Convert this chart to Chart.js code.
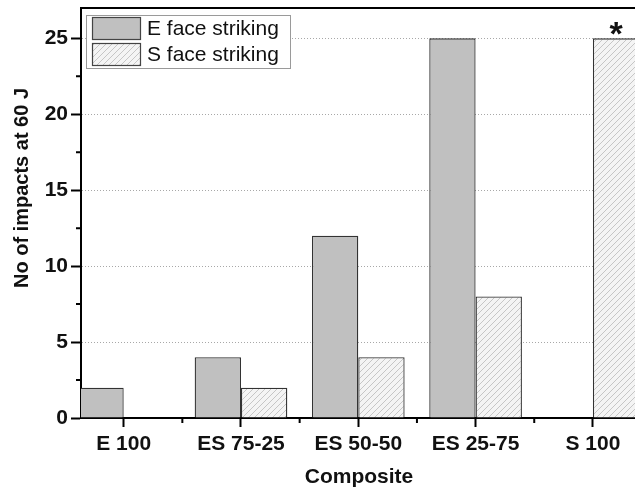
<!DOCTYPE html>
<html>
<head>
<meta charset="utf-8">
<script src="https://cdn.jsdelivr.net/npm/chart.js@4.4.0/dist/chart.umd.min.js"></script>
<style>
  html, body { margin: 0; padding: 0; background: #fff; overflow: hidden; }
  #wrap { width: 640px; height: 490px; }
</style>
</head>
<body>
<div id="wrap"><canvas id="impactChart" width="640" height="490"></canvas></div>
<script>
// data
const categories = ["E 100", "ES 75-25", "ES 50-50", "ES 25-75", "S 100"];
const seriesLabels = ["E face striking", "S face striking"];
const eFace = [2, 4, 12, 25, 0];
const sFace = [0, 2, 4, 8, 25];
const yTicks = [0, 5, 10, 15, 20, 25];
const yMinor = [2.5, 7.5, 12.5, 17.5, 22.5];
const xMinor = [0.5, 1.5, 2.5, 3.5];
const starred = [4]; // S face bar marked with *

const FONT = '"Liberation Sans", Arial, sans-serif';

// hatch for the S face bars
function makeHatch() {
  const c = document.createElement("canvas");
  c.width = 6; c.height = 6;
  const g = c.getContext("2d");
  g.fillStyle = "#f4f4f4";
  g.fillRect(0, 0, 6, 6);
  g.strokeStyle = "#c6c6c6";
  g.lineWidth = 1;
  g.beginPath();
  g.moveTo(0, 6); g.lineTo(6, 0);
  g.moveTo(-1, 1); g.lineTo(1, -1);
  g.moveTo(5, 7); g.lineTo(7, 5);
  g.stroke();
  return g.createPattern(c, "repeat");
}
const hatch = makeHatch();
const eColor = "#c0c0c0";
const edge = "#333333";

function noPad(s) {
  s.paddingTop = 0; s.paddingBottom = 0;
  s.paddingLeft = 0; s.paddingRight = 0;
}

const extras = {
  id: "extras",
  afterDatasetsDraw(chart) {
    const ctx = chart.ctx;
    const meta = chart.getDatasetMeta(1);
    ctx.save();
    ctx.fillStyle = "#111";
    ctx.font = "bold 34px " + FONT;
    ctx.textAlign = "center";
    ctx.textBaseline = "alphabetic";
    starred.forEach(function (i) {
      const bar = meta.data[i];
      ctx.fillText("*", bar.x, bar.y + 7);
    });
    ctx.restore();
  },
  afterDraw(chart) {
    const ctx = chart.ctx;
    const area = chart.chartArea;
    const x = chart.scales.x, y = chart.scales.y;
    ctx.save();
    ctx.strokeStyle = "#000";
    ctx.lineWidth = 2;
    // top frame
    ctx.beginPath();
    ctx.moveTo(area.left - 1, area.top);
    ctx.lineTo(area.right + 2, area.top);
    ctx.stroke();
    // minor ticks
    ctx.beginPath();
    yMinor.forEach(function (v) {
      const py = y.getPixelForValue(v);
      ctx.moveTo(area.left - 5, py);
      ctx.lineTo(area.left, py);
    });
    xMinor.forEach(function (v) {
      const px = x.getPixelForValue(v);
      ctx.moveTo(px, area.bottom);
      ctx.lineTo(px, area.bottom + 5);
    });
    ctx.stroke();

    // legend box
    ctx.fillStyle = "#fff";
    ctx.fillRect(86, 15, 204, 53);
    ctx.lineWidth = 1;
    ctx.strokeStyle = "#9a9a9a";
    ctx.strokeRect(86.5, 15.5, 204, 53);
    const swatches = [eColor, hatch];
    ctx.font = "21px " + FONT;
    ctx.textAlign = "left";
    ctx.textBaseline = "middle";
    seriesLabels.forEach(function (lab, i) {
      const top = 17 + i * 26;
      ctx.fillStyle = swatches[i];
      ctx.fillRect(92, top, 49, 23);
      ctx.strokeStyle = "#444";
      ctx.lineWidth = 1.2;
      ctx.strokeRect(92.5, top + 0.5, 48, 22);
      ctx.fillStyle = "#111";
      ctx.fillText(lab, 147, top + 12);
    });

    // y title
    ctx.translate(22, 188);
    ctx.rotate(-Math.PI / 2);
    ctx.font = "bold 20px " + FONT;
    ctx.textAlign = "center";
    ctx.fillStyle = "#111";
    ctx.fillText("No of impacts at 60 J", 0, 0);
    ctx.restore();
  }
};

new Chart(document.getElementById("impactChart").getContext("2d"), {
  type: "bar",
  data: {
    datasets: [
      {
        label: seriesLabels[0],
        data: categories.map(function (c, i) { return { x: i, y: eFace[i] }; }),
        backgroundColor: eColor,
        borderColor: edge,
        borderWidth: 1.3,
        borderSkipped: "start"
      },
      {
        label: seriesLabels[1],
        data: categories.map(function (c, i) { return { x: i, y: sFace[i] }; }),
        backgroundColor: hatch,
        borderColor: edge,
        borderWidth: 1.3,
        borderSkipped: "start"
      }
    ]
  },
  options: {
    responsive: false,
    animation: false,
    devicePixelRatio: 1,
    categoryPercentage: 0.79,
    barPercentage: 1,
    layout: { padding: { top: 8, right: 3, left: 0, bottom: 0 } },
    plugins: { legend: { display: false }, tooltip: { enabled: false } },
    scales: {
      x: {
        type: "linear",
        min: -0.364,
        max: 4.376,
        offset: false,
        afterFit: function (s) { s.height = 72; noPad(s); },
        afterBuildTicks: function (s) {
          s.ticks = categories.map(function (c, i) { return { value: i }; });
        },
        ticks: {
          callback: function (v) { return categories[v]; },
          color: "#111",
          font: { family: FONT, size: 21, weight: "bold" },
          padding: 5,
          maxRotation: 0,
          autoSkip: false
        },
        grid: { offset: false, drawOnChartArea: false, tickLength: 9, tickWidth: 2, tickColor: "#000" },
        border: { color: "#000", width: 2 },
        title: {
          display: true,
          text: "Composite",
          color: "#111",
          font: { family: FONT, size: 21, weight: "bold" },
          padding: { top: 0, bottom: 0 }
        }
      },
      y: {
        min: 0,
        max: 27,
        afterFit: function (s) { s.width = 81; noPad(s); },
        afterBuildTicks: function (s) {
          s.ticks = yTicks.map(function (v) { return { value: v }; });
        },
        ticks: {
          color: "#111",
          font: { family: FONT, size: 21, weight: "bold" },
          padding: 3
        },
        grid: { color: "#a8a8a8", lineWidth: 1, tickLength: 10, tickWidth: 2, tickColor: "#000" },
        border: { color: "#000", width: 2, dash: [1, 2] }
      }
    }
  },
  plugins: [extras]
});
</script>
</body>
</html>
